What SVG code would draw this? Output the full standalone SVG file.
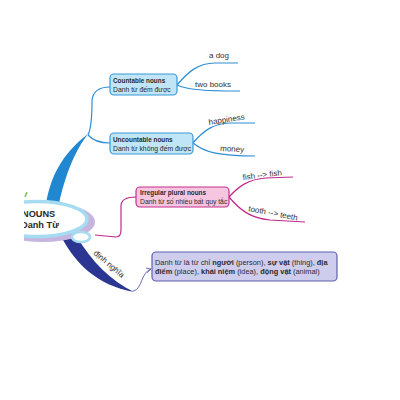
<svg xmlns="http://www.w3.org/2000/svg" width="400" height="400" viewBox="0 0 400 400">
<style>
text{font-family:"Liberation Sans",Arial,sans-serif;fill:#2a2a2a}
.b{font-weight:bold}
.nt{font-size:6.4px}
.ns{font-size:6.8px}
.leaf{font-size:8px;fill:#333}
.bl{fill:none;stroke:#2c8fd6;stroke-width:1.2}
.pk{fill:none;stroke:#c4288a;stroke-width:1.2}
.bn{fill:#bfe5f7;stroke:#3b99d6;stroke-width:1.2}
.pn{fill:#f6c6e0;stroke:#c4308b;stroke-width:1.2}
</style>
<defs>
<clipPath id="clip"><rect x="24" y="0" width="376" height="400"/></clipPath>
<marker id="arr" markerWidth="6" markerHeight="6" refX="5" refY="3" orient="auto" markerUnits="userSpaceOnUse">
<path d="M0,0.5 L5,3 L0,5.5" fill="none" stroke="#5e5fae" stroke-width="0.8"/>
</marker>
</defs>
<rect width="400" height="400" fill="#fff"/>
<g id="connectors">
<path d="M46,204 C50,180 60,155 88,134 C76,149 65,175 59,204 Z" fill="#2187d0"/>
<path class="bl" d="M88,135 C91,129 92,115 92,101 Q93,87 110,87"/>
<path class="bl" d="M88,135 Q95,143 110,143"/>
<path class="bl" d="M177,85 C188,72 198,63 215,63 L238,63"/>
<path class="bl" d="M177,85 C186,89 198,91 240,91"/>
<path class="bl" d="M193,143 C204,130 214,123 232,123 L255,123"/>
<path class="bl" d="M193,143 C204,152 218,156 255,156"/>
<path class="pk" d="M95,235 L116,237 Q121,237 121,230 L121,206 Q121,197 136,197"/>
<path class="pk" d="M229,197 C238,187 248,179 266,178 L293,177"/>
<path class="pk" d="M229,197 C240,210 250,218 270,220 L305,222"/>
<path d="M63,240 C76,263 96,285 134,292 C111,281 92,262 77,237 Z" fill="#2b3592"/>
<text class="leaf" transform="translate(93,254) rotate(40)">định nghĩa</text>
<path d="M133,291 C142,290 141,272 151,269" fill="none" stroke="#5e5fae" stroke-width="0.9" marker-end="url(#arr)"/>
<text class="leaf" x="209" y="58">a dog</text>
<text class="leaf" x="195" y="87">two books</text>
<text class="leaf" transform="translate(209,125) rotate(-9)">happiness</text>
<text class="leaf" transform="translate(220,151) rotate(3)">money</text>
<text class="leaf" transform="translate(243,180) rotate(-7)">fish --&gt; fish</text>
<text class="leaf" transform="translate(248,211) rotate(11)">tooth --&gt; teeth</text>
</g>
<g id="center" clip-path="url(#clip)">
<ellipse cx="42" cy="222" rx="53" ry="20" fill="#c6b6df"/>
<ellipse cx="37" cy="219" rx="50" ry="17.5" fill="#fff" stroke="#a6dcf2" stroke-width="3.5"/>
<ellipse cx="81" cy="237" rx="9" ry="5" fill="#fff" stroke="#a6dcf2" stroke-width="2.5"/>
<path d="M25,197 L27,192" stroke="#7cc242" stroke-width="1.5"/>
<text class="b" x="22" y="217" font-size="9.2">NOUNS</text>
<text class="b" x="21" y="228" font-size="9.2">Danh Từ</text>
</g>
<g id="countable">
<rect class="bn" x="110" y="74" width="67" height="21" rx="4"/>
<text class="b nt" x="113" y="83">Countable nouns</text>
<text class="ns" x="113" y="92">Danh từ đếm được</text>
</g>
<g id="uncountable">
<rect class="bn" x="110" y="133" width="83" height="21" rx="4"/>
<text class="b nt" x="113" y="141.5">Uncountable nouns</text>
<text class="ns" x="113" y="150.5">Danh từ không đếm được</text>
</g>
<g id="irregular">
<rect class="pn" x="136" y="187" width="93" height="20" rx="4"/>
<text class="b nt" x="140" y="195">Irregular plural nouns</text>
<text class="ns" x="140" y="204">Danh từ số nhiều bất quy tắc</text>
</g>
<g id="definition">
<rect x="152" y="252" width="185" height="29" rx="4" fill="#cfcdee" stroke="#5e5fae" stroke-width="1.2"/>
<text x="155" y="265" font-size="7.4">Danh từ là từ chỉ <tspan class="b">người</tspan> (person), <tspan class="b">sự vật</tspan> (thing), <tspan class="b">địa</tspan></text>
<text x="155" y="274" font-size="7.4"><tspan class="b">điểm</tspan> (place), <tspan class="b">khái niệm</tspan> (idea), <tspan class="b">động vật</tspan> (animal)</text>
</g>
</svg>
